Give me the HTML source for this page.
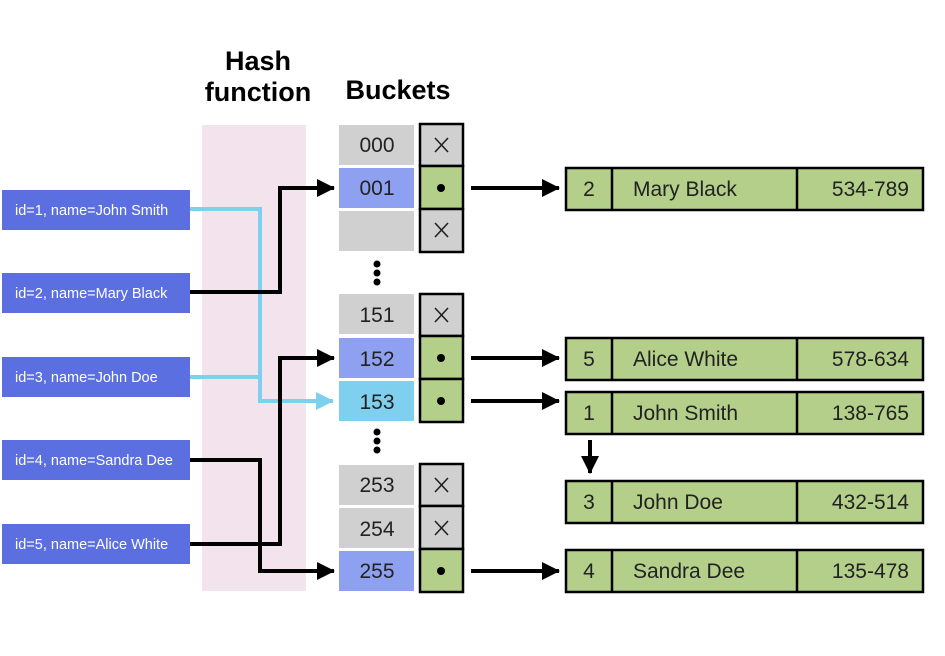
<!DOCTYPE html>
<html><head><meta charset="utf-8"><style>
body{margin:0;background:#fff;width:945px;height:651px;overflow:hidden}
svg text{font-family:"Liberation Sans",sans-serif}
</style></head><body>
<svg width="945" height="651" viewBox="0 0 945 651">
<defs><marker id="a" markerWidth="18" markerHeight="18" refX="17" refY="9" orient="auto" markerUnits="userSpaceOnUse"><path d="M0,0 L18,9 L0,18z" fill="#000"/></marker>
<marker id="ab" markerWidth="18" markerHeight="18" refX="17" refY="9" orient="auto" markerUnits="userSpaceOnUse"><path d="M0,0 L18,9 L0,18z" fill="#7fd0ee"/></marker></defs>
<rect x="202" y="125" width="104" height="466" fill="#f3e3ec"/>
<text x="258" y="70" font-size="27" font-weight="bold" text-anchor="middle">Hash</text>
<text x="258" y="101" font-size="27" font-weight="bold" text-anchor="middle">function</text>
<text x="398" y="99" font-size="27" font-weight="bold" text-anchor="middle">Buckets</text>
<g font-size="14.5" fill="#fff">
<rect x="2" y="190" width="188" height="40" fill="#5b6fe0"/><text x="15" y="215">id=1, name=John Smith</text>
<rect x="2" y="273" width="188" height="40" fill="#5b6fe0"/><text x="15" y="298">id=2, name=Mary Black</text>
<rect x="2" y="357" width="188" height="40" fill="#5b6fe0"/><text x="15" y="382">id=3, name=John Doe</text>
<rect x="2" y="440" width="188" height="40" fill="#5b6fe0"/><text x="15" y="465">id=4, name=Sandra Dee</text>
<rect x="2" y="524" width="188" height="40" fill="#5b6fe0"/><text x="15" y="549">id=5, name=Alice White</text>
</g>
<g fill="none" stroke-width="4">
<path d="M190,209 H260 V401 H333" stroke="#7fd0ee" marker-end="url(#ab)"/>
<path d="M190,377 H260" stroke="#7fd0ee"/>
<path d="M190,292 H280 V188 H334" stroke="#000" marker-end="url(#a)"/>
<path d="M190,544 H280 V358 H334" stroke="#000" marker-end="url(#a)"/>
<path d="M190,460 H260 V571 H334" stroke="#000" marker-end="url(#a)"/>
<path d="M471,188 H559" stroke="#000" marker-end="url(#a)"/>
<path d="M471,358 H559" stroke="#000" marker-end="url(#a)"/>
<path d="M471,401 H559" stroke="#000" marker-end="url(#a)"/>
<path d="M471,571 H559" stroke="#000" marker-end="url(#a)"/>
<path d="M590,440 V473" stroke="#000" marker-end="url(#a)"/>
</g>
<g font-size="21" text-anchor="middle" fill="#222">
<rect x="339" y="125" width="75" height="40" fill="#d0d0d0"/><text x="377" y="152">000</text>
<rect x="339" y="168" width="75" height="40" fill="#8ea1f0"/><text x="377" y="195">001</text>
<rect x="339" y="211" width="75" height="40" fill="#d0d0d0"/>
<rect x="339" y="294" width="75" height="40" fill="#d0d0d0"/><text x="377" y="322">151</text>
<rect x="339" y="338" width="75" height="40" fill="#8ea1f0"/><text x="377" y="366">152</text>
<rect x="339" y="381" width="75" height="40" fill="#7fd0ee"/><text x="377" y="409">153</text>
<rect x="339" y="465" width="75" height="40" fill="#d0d0d0"/><text x="377" y="492">253</text>
<rect x="339" y="508" width="75" height="40" fill="#d0d0d0"/><text x="377" y="536">254</text>
<rect x="339" y="551" width="75" height="40" fill="#8ea1f0"/><text x="377" y="578">255</text>
</g>
<g fill="#000"><circle cx="377" cy="264" r="3.5"/><circle cx="377" cy="273" r="3.5"/><circle cx="377" cy="282" r="3.5"/>
<circle cx="377" cy="432" r="3.5"/><circle cx="377" cy="441" r="3.5"/><circle cx="377" cy="450" r="3.5"/></g>
<g stroke="#000" stroke-width="2.5">
<rect x="420" y="124" width="43" height="42" fill="#d0d0d0"/>
<rect x="420" y="166" width="43" height="43" fill="#b3cf8a"/>
<rect x="420" y="209" width="43" height="43" fill="#d0d0d0"/>
<rect x="420" y="294" width="43" height="42" fill="#d0d0d0"/>
<rect x="420" y="336" width="43" height="43" fill="#b3cf8a"/>
<rect x="420" y="379" width="43" height="43" fill="#b3cf8a"/>
<rect x="420" y="464" width="43" height="42" fill="#d0d0d0"/>
<rect x="420" y="506" width="43" height="43" fill="#d0d0d0"/>
<rect x="420" y="549" width="43" height="43" fill="#b3cf8a"/>
</g>
<g stroke="#222" stroke-width="1.6" fill="none">
<path d="M435,138l13,14M448,138l-13,14"/>
<path d="M435,223l13,14M448,223l-13,14"/>
<path d="M435,308l13,14M448,308l-13,14"/>
<path d="M435,478l13,14M448,478l-13,14"/>
<path d="M435,521l13,14M448,521l-13,14"/>
</g>
<g fill="#000"><circle cx="441" cy="188" r="4"/><circle cx="441" cy="358" r="4"/><circle cx="441" cy="401" r="4"/><circle cx="441" cy="571" r="4"/></g>
<g stroke="#000" stroke-width="2.5" font-size="21" fill="#222">
<g transform="translate(0,168)"><rect x="566" y="0" width="357" height="42" fill="#b3cf8a"/><path d="M612,0V42M797,0V42"/><text x="589" y="28" stroke="none" text-anchor="middle">2</text><text x="633" y="28" stroke="none">Mary Black</text><text x="909" y="28" stroke="none" text-anchor="end">534-789</text></g>
<g transform="translate(0,338)"><rect x="566" y="0" width="357" height="42" fill="#b3cf8a"/><path d="M612,0V42M797,0V42"/><text x="589" y="28" stroke="none" text-anchor="middle">5</text><text x="633" y="28" stroke="none">Alice White</text><text x="909" y="28" stroke="none" text-anchor="end">578-634</text></g>
<g transform="translate(0,392)"><rect x="566" y="0" width="357" height="42" fill="#b3cf8a"/><path d="M612,0V42M797,0V42"/><text x="589" y="28" stroke="none" text-anchor="middle">1</text><text x="633" y="28" stroke="none">John Smith</text><text x="909" y="28" stroke="none" text-anchor="end">138-765</text></g>
<g transform="translate(0,481)"><rect x="566" y="0" width="357" height="42" fill="#b3cf8a"/><path d="M612,0V42M797,0V42"/><text x="589" y="28" stroke="none" text-anchor="middle">3</text><text x="633" y="28" stroke="none">John Doe</text><text x="909" y="28" stroke="none" text-anchor="end">432-514</text></g>
<g transform="translate(0,550)"><rect x="566" y="0" width="357" height="42" fill="#b3cf8a"/><path d="M612,0V42M797,0V42"/><text x="589" y="28" stroke="none" text-anchor="middle">4</text><text x="633" y="28" stroke="none">Sandra Dee</text><text x="909" y="28" stroke="none" text-anchor="end">135-478</text></g>
</g>
</svg>
</body></html>
